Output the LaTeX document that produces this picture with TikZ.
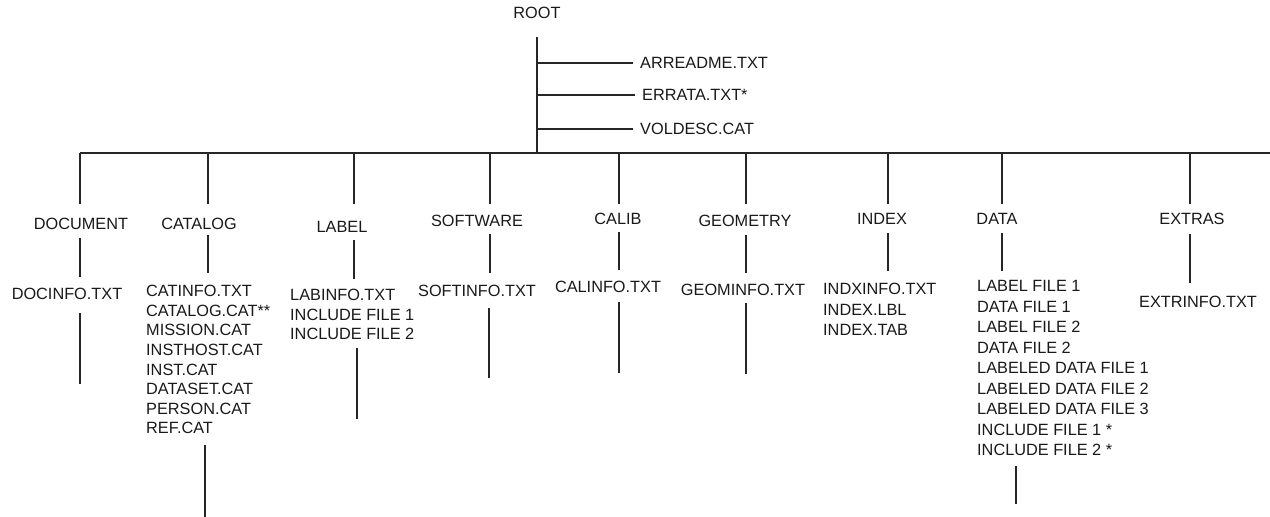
\documentclass[tikz,border=0pt]{standalone}
\usepackage{fontspec}
\setmainfont{Liberation Sans}
\begin{document}
\begin{tikzpicture}[x=1pt,y=-1pt,
  txt/.style={inner sep=0pt,font=\fontsize{16.3}{19.6}\selectfont,text=black!90},
  lst/.style={txt,align=left,anchor=north west},
  ln/.style={line width=1.7pt,draw=black!85}]
\useasboundingbox (0,0) rectangle (1270,517);
% root
\node[txt] (root) at (537,13) {ROOT};
\coordinate (rb) at (537,153);
\draw[ln,shorten <=18pt] (root.south) -- (rb);
\node[txt,anchor=west] (f1) at (640,63) {ARREADME.TXT};
\node[txt,anchor=west] (f2) at (642,95) {ERRATA.TXT*};
\node[txt,anchor=west] (f3) at (640,129) {VOLDESC.CAT};
\foreach \f in {f1,f2,f3} \draw[ln,shorten >=7pt] (rb |- \f.west) -- (\f.west);
% bus
\coordinate (busL) at (80,153);
\coordinate (busR) at (1270,153);
\draw[ln] (busL) -- (busR);
\coordinate (b1) at (80,153);
\coordinate (b2) at (208,153);
\coordinate (b3) at (354,153);
\coordinate (b4) at (490,153);
\coordinate (b5) at (619,153);
\coordinate (b6) at (746,153);
\coordinate (b7) at (888,153);
\coordinate (b8) at (1002,153);
\coordinate (b9) at (1190,153);
% labels
\node[txt] (l1) at (81,224) {DOCUMENT};
\node[txt] (l2) at (199,224) {CATALOG};
\node[txt] (l3) at (342,227) {LABEL};
\node[txt] (l4) at (477,221) {SOFTWARE};
\node[txt] (l5) at (618,219) {CALIB};
\node[txt] (l6) at (745,221) {GEOMETRY};
\node[txt] (l7) at (882,219) {INDEX};
\node[txt] (l8) at (997,219) {DATA};
\node[txt] (l9) at (1192,219) {EXTRAS};
\draw[ln,shorten >=14pt] (b1) -- (l1.north -| b1);
\draw[ln,shorten >=14pt] (b2) -- (l2.north -| b2);
\draw[ln,shorten >=17pt] (b3) -- (l3.north -| b3);
\draw[ln,shorten >=11pt] (b4) -- (l4.north -| b4);
\draw[ln,shorten >=9pt] (b5) -- (l5.north -| b5);
\draw[ln,shorten >=11pt] (b6) -- (l6.north -| b6);
\draw[ln,shorten >=9pt] (b7) -- (l7.north -| b7);
\draw[ln,shorten >=9pt] (b8) -- (l8.north -| b8);
\draw[ln,shorten >=9pt] (b9) -- (l9.north -| b9);
% lists
\node[txt] (d1) at (67,294) {DOCINFO.TXT};
\node[lst] (d2) at (146,285.2) {CATINFO.TXT\\CATALOG.CAT**\\MISSION.CAT\\INSTHOST.CAT\\INST.CAT\\DATASET.CAT\\PERSON.CAT\\REF.CAT};
\node[lst] (d3) at (290,289.2) {LABINFO.TXT\\INCLUDE FILE 1\\INCLUDE FILE 2};
\node[txt] (d4) at (477,291) {SOFTINFO.TXT};
\node[txt] (d5) at (608,287) {CALINFO.TXT};
\node[txt] (d6) at (743,290) {GEOMINFO.TXT};
\node[lst,font=\fontsize{16.3}{20.5}\selectfont] (d7) at (823,283.2) {INDXINFO.TXT\\INDEX.LBL\\INDEX.TAB};
\node[lst,font=\fontsize{16.3}{20.5}\selectfont] (d8) at (977,280.2) {LABEL FILE 1\\DATA FILE 1\\LABEL FILE 2\\DATA FILE 2\\LABELED DATA FILE 1\\LABELED DATA FILE 2\\LABELED DATA FILE 3\\INCLUDE FILE 1 *\\INCLUDE FILE 2 *};
\node[txt] (d9) at (1198,302) {EXTRINFO.TXT};
\draw[ln,shorten <=8pt,shorten >=11pt] (l1.south -| b1) -- (d1.north -| b1);
\draw[ln,shorten <=5pt,shorten >=12pt] (l2.south -| b2) -- (d2.north -| b2);
\draw[ln,shorten <=7pt,shorten >=10pt] (l3.south -| b3) -- (d3.north -| b3);
\draw[ln,shorten <=7pt,shorten >=12pt] (l4.south -| b4) -- (d4.north -| b4);
\draw[ln,shorten <=7pt,shorten >=11pt] (l5.south -| b5) -- (d5.north -| b5);
\draw[ln,shorten <=8pt,shorten >=11pt] (l6.south -| b6) -- (d6.north -| b6);
\draw[ln,shorten <=8pt,shorten >=12pt] (l7.south -| b7) -- (d7.north -| b7);
\draw[ln,shorten <=8pt,shorten >=9pt] (l8.south -| b8) -- (d8.north -| b8);
\draw[ln,shorten <=9pt,shorten >=13pt] (l9.south -| b9) -- (d9.north -| b9);
% bottom free ends
\coordinate (e1) at (80,384);
\coordinate (e2) at (205,517);
\coordinate (e3) at (357,419);
\coordinate (e4) at (489,378);
\coordinate (e5) at (619,373);
\coordinate (e6) at (746,374);
\coordinate (e8) at (1016,504);
\draw[ln,shorten <=13pt] (d1.south -| e1) -- (e1);
\draw[ln,shorten <=11pt] (d2.south -| e2) -- (e2);
\draw[ln,shorten <=8pt] (d3.south -| e3) -- (e3);
\draw[ln,shorten <=11pt] (d4.south -| e4) -- (e4);
\draw[ln,shorten <=9pt] (d5.south -| e5) -- (e5);
\draw[ln,shorten <=7pt] (d6.south -| e6) -- (e6);
\draw[ln,shorten <=10pt] (d8.south -| e8) -- (e8);
\end{tikzpicture}
\end{document}
